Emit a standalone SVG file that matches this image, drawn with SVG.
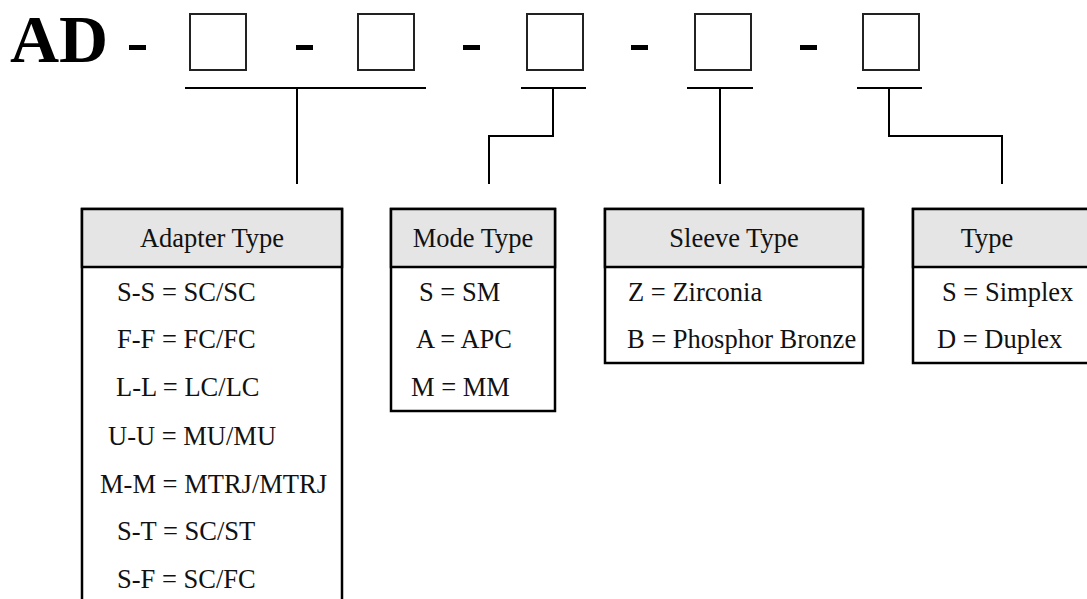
<svg xmlns="http://www.w3.org/2000/svg" width="1087" height="599" viewBox="0 0 1087 599">
<style>
.t{font-family:"Liberation Serif","Times New Roman",serif;font-size:26.5px;fill:#111}
.h{text-anchor:middle}
.title{font-family:"Liberation Serif","Times New Roman",serif;font-size:68px;font-weight:bold;fill:#000}
.slot{fill:#fff;stroke:#222;stroke-width:2}
.box{fill:#fff;stroke:#000;stroke-width:2.5}
.hdr{fill:#e5e5e5;stroke:#000;stroke-width:2.5}
.c{fill:none;stroke:#000;stroke-width:2}
</style>
<rect width="1087" height="599" fill="#fff"/>
<g id="code">
<text class="title" x="10" y="62">AD</text>
<rect x="129" y="45" width="17" height="5" fill="#000"/>
<rect x="296" y="45" width="17" height="5" fill="#000"/>
<rect x="463" y="45" width="17" height="5" fill="#000"/>
<rect x="631" y="45" width="17" height="5" fill="#000"/>
<rect x="800" y="45" width="17" height="5" fill="#000"/>
<rect class="slot" x="190" y="14" width="56" height="56"/>
<rect class="slot" x="358" y="14" width="56" height="56"/>
<rect class="slot" x="527" y="14" width="56" height="56"/>
<rect class="slot" x="695" y="14" width="56" height="56"/>
<rect class="slot" x="863" y="14" width="56" height="56"/>
</g>
<g id="connectors">
<path class="c" d="M185 88H426M297 88V184"/>
<path class="c" d="M521 88H586M553 88V136H489V184"/>
<path class="c" d="M687 88H753M720 88V184"/>
<path class="c" d="M857 88H922M889 88V136H1002V184"/>
</g>
<g id="adapter">
<rect class="box" x="82" y="209" width="260" height="420"/>
<rect class="hdr" x="82" y="209" width="260" height="58"/>
<text class="t h" x="212" y="247">Adapter Type</text>
<text class="t" x="117" y="301">S-S = SC/SC</text>
<text class="t" x="117" y="348">F-F = FC/FC</text>
<text class="t" x="116" y="396">L-L = LC/LC</text>
<text class="t" x="108" y="445">U-U = MU/MU</text>
<text class="t" x="100" y="493">M-M = MTRJ/MTRJ</text>
<text class="t" x="117" y="540">S-T = SC/ST</text>
<text class="t" x="117" y="588">S-F = SC/FC</text>
</g>
<g id="mode">
<rect class="box" x="391" y="209" width="164" height="202"/>
<rect class="hdr" x="391" y="209" width="164" height="58"/>
<text class="t h" x="473" y="247">Mode Type</text>
<text class="t" x="419" y="301">S = SM</text>
<text class="t" x="416" y="348">A = APC</text>
<text class="t" x="411" y="396">M = MM</text>
</g>
<g id="sleeve">
<rect class="box" x="605" y="209" width="258" height="154"/>
<rect class="hdr" x="605" y="209" width="258" height="58"/>
<text class="t h" x="734" y="247">Sleeve Type</text>
<text class="t" x="628" y="301">Z = Zirconia</text>
<text class="t" x="627" y="348">B = Phosphor Bronze</text>
</g>
<g id="type">
<rect class="box" x="913" y="209" width="190" height="154"/>
<rect class="hdr" x="913" y="209" width="190" height="58"/>
<text class="t h" x="987" y="247">Type</text>
<text class="t" x="942" y="301">S = Simplex</text>
<text class="t" x="937" y="348">D = Duplex</text>
</g>
</svg>
